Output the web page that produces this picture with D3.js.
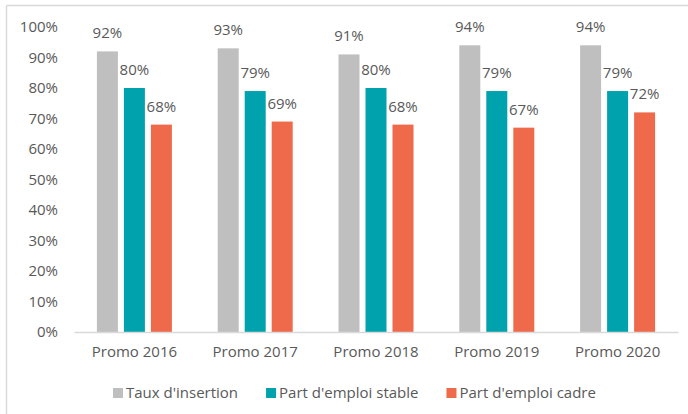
<!DOCTYPE html>
<html>
<head>
<meta charset="utf-8">
<script src="https://cdnjs.cloudflare.com/ajax/libs/d3/7.8.5/d3.min.js"></script>
<style>
    body { margin: 0; background: #fff; }
    text { font-family: "Open Sans", sans-serif; fill: #595959; }
</style>
</head>
<body>
<svg id="chart" width="688" height="414"></svg>
<script>
// categories and series
var promos = ["Promo 2016", "Promo 2017", "Promo 2018", "Promo 2019", "Promo 2020"];
var seriesNames = ["Taux d'insertion", "Part d'emploi stable", "Part d'emploi cadre"];
var seriesColors = ["#bfbfbf", "#00a2ad", "#ef6a4b"];

// values in percent
var insertion = [92, 93, 91, 94, 94];
var stable = [80, 79, 80, 79, 79];
var cadre = [68, 69, 68, 67, 72];

var yTicks = [0, 10, 20, 30, 40, 50, 60, 70, 80, 90, 100];

var values = [insertion, stable, cadre];

const FONT = "15px";

var svg = d3.select("#chart");

// frame (top and left edge only, like the screenshot)
svg.append("line")
    .attr("x1", 6.5).attr("x2", 688).attr("y1", 5.5).attr("y2", 5.5)
    .attr("stroke", "#d9d9d9").attr("stroke-width", 1.5);
svg.append("line")
    .attr("x1", 6.5).attr("x2", 6.5).attr("y1", 5.5).attr("y2", 414)
    .attr("stroke", "#d9d9d9").attr("stroke-width", 1.5);

// scales
var x = d3.scaleBand().domain(promos).range([74, 678]);
var xSub = d3.scaleBand().domain(d3.range(seriesNames.length))
    .range([-37.5, 37.5]).paddingInner(6 / 27);
var y = d3.scaleLinear().domain([0, 100]).range([332, 27]);

// y axis labels
var yAxis = d3.axisLeft(y)
    .tickValues(yTicks)
    .tickFormat(d => d + "%")
    .tickSize(0)
    .tickPadding(0);

var gy = svg.append("g")
    .attr("transform", "translate(58,0)")
    .call(yAxis);
gy.select(".domain").remove();
gy.selectAll("text")
    .style("font-size", FONT)
    .attr("fill", "#595959");

// bars
for (let s = 0; s < values.length; s++)
{
    var g = svg.append("g").attr("class", "series" + s);

    g.selectAll("rect")
        .data(values[s])
        .enter()
        .append("rect")
        .attr("x", (d, i) => x(promos[i]) + x.bandwidth() / 2 + xSub(s))
        .attr("y", d => y(d))
        .attr("width", xSub.bandwidth())
        .attr("height", d => y(0) - y(d))
        .attr("fill", seriesColors[s]);

    // data labels
    g.selectAll("text")
        .data(values[s])
        .enter()
        .append("text")
        .attr("x", (d, i) => x(promos[i]) + x.bandwidth() / 2 + xSub(s) + xSub.bandwidth() / 2)
        .attr("y", d => y(d) - 13)
        .attr("text-anchor", "middle")
        .style("font-size", FONT)
        .text(d => d + "%");
}

// x axis line and labels
var xAxis = d3.axisBottom(x).tickSize(0).tickPadding(14);
var gx = svg.append("g")
    .attr("transform", "translate(0," + y(0) + ")")
    .call(xAxis);
gx.select(".domain").attr("stroke", "#d9d9d9").attr("stroke-width", 1.5);
gx.selectAll("text")
    .style("font-size", FONT)
    .attr("fill", "#595959");

// legend
var legend = svg.append("g").attr("transform", "translate(0,393)");
var lx = 113;
for (let s = 0; s < seriesNames.length; s++)
{
    legend.append("rect")
        .attr("x", lx)
        .attr("y", -5)
        .attr("width", 10)
        .attr("height", 10)
        .attr("fill", seriesColors[s]);

    var t = legend.append("text")
        .attr("x", lx + 13)
        .attr("dy", "0.35em")
        .style("font-size", FONT)
        .text(seriesNames[s]);

    lx += 13 + t.node().getComputedTextLength() + 28;
}
</script>
</body>
</html>
